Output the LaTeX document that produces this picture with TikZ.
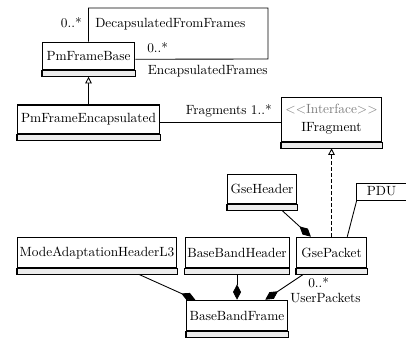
\documentclass[tikz,border=0pt]{standalone}
\usetikzlibrary{arrows.meta,fit,calc}

\definecolor{compgray}{RGB}{236,236,236}
\definecolor{stereo}{RGB}{125,125,125}

% UML class: name box, empty gray compartment, and a frame node spanning both
\newcommand{\umlclass}[6]{%
  \node[clsname, minimum width=#4, minimum height=#5] (#1-n) at (#2,#3) {#6};
  \draw[clscomp] (#1-n.south west) rectangle ([yshift=-4.5pt]#1-n.south east);
  \coordinate (#1-cb) at ([yshift=-4.5pt]#1-n.south);
  \node[fit=(#1-n)(#1-cb), inner sep=0pt] (#1) {};
}

\tikzset{
  every node/.style={font=\fontsize{10}{12}\selectfont},
  clsname/.style={draw=black, line width=0.8pt, fill=white, anchor=north west, inner sep=0pt},
  clscomp/.style={draw=black, line width=0.8pt, fill=compgray},
  lbl/.style={inner sep=0pt},
  assoc/.style={line width=0.65pt},
  compo/.style={assoc, -{Diamond[length=11.5pt, width=6pt]}},
  gener/.style={assoc, -{Triangle[open, length=5pt, width=5pt, fill=white]}},
  realize/.style={gener, dash pattern=on 3pt off 1.5pt},
}

\begin{document}
\begin{tikzpicture}[x=0.75pt, y=-0.75pt]
\useasboundingbox (0,0) rectangle (406,338);

% classes
\umlclass{base}{42}{42}{69pt}{20.6pt}{PmFrameBase}
\umlclass{pfe}{17}{104.5}{106.5pt}{21.75pt}{PmFrameEncapsulated}
\umlclass{ifrag}{281}{97}{75pt}{33pt}{%
  \begin{tabular}{@{}c@{}}\textcolor{stereo}{<\kern0pt<Interface>\kern0pt>}\\[1.5pt]IFragment\end{tabular}}
\umlclass{gseh}{227}{174}{51.75pt}{22.1pt}{GseHeader}
\umlclass{gsep}{296}{237}{52.5pt}{22.5pt}{GsePacket}
\umlclass{bbh}{184.5}{237}{78pt}{22.5pt}{BaseBandHeader}
\umlclass{mahl}{17}{237}{119.25pt}{22.5pt}{ModeAdaptationHeaderL3}
\umlclass{bbf}{186}{300}{75.75pt}{22.5pt}{BaseBandFrame}

% PDU box running off the right side
\node[clsname, minimum width=39pt, minimum height=12.75pt] (pdu) at (356,183) {};
\node[lbl] (pdutext) at (381.5,191.5) {PDU};

% self association of PmFrameBase
\coordinate (loopNE) at (268,8);
\coordinate (loopSE) at (268,59);
\draw[assoc] (base.north) |- (loopNE) -- (loopSE) -- (base.east);
\node[lbl, anchor=base east] (mDec) at (82,27.5) {0..*};
\node[lbl, anchor=base west] (rDec) at (95,27.5) {DecapsulatedFromFrames};
\node[lbl, anchor=base west] (mEnc) at (147,53) {0..*};
\node[lbl, anchor=base west] (rEnc) at (147.5,75) {EncapsulatedFrames};

% inheritance and association
\draw[gener] (pfe.north) -- (base.south);
\draw[assoc] (pfe.east) -- (ifrag.west);
\node[lbl, anchor=base east] (rFrag) at (272,115) {Fragments 1..*};

% GsePacket realizes IFragment
\draw[realize] (gsep.north) -- (ifrag.south);

% PDU link
\draw[assoc] ([xshift=0.4pt]pdu.south west) -- ([xshift=11.8pt]gsep.north);

% compositions
\draw[compo] (gseh) -- (gsep);
\draw[compo] (mahl) -- (bbf);
\draw[compo] (bbh) -- (bbf);
\draw[compo] (gsep) -- (bbf);
\node[lbl, anchor=base west] (mUser) at (308,287) {0..*};
\node[lbl, anchor=base west] (rUser) at (290,302) {UserPackets};
\end{tikzpicture}
\end{document}
